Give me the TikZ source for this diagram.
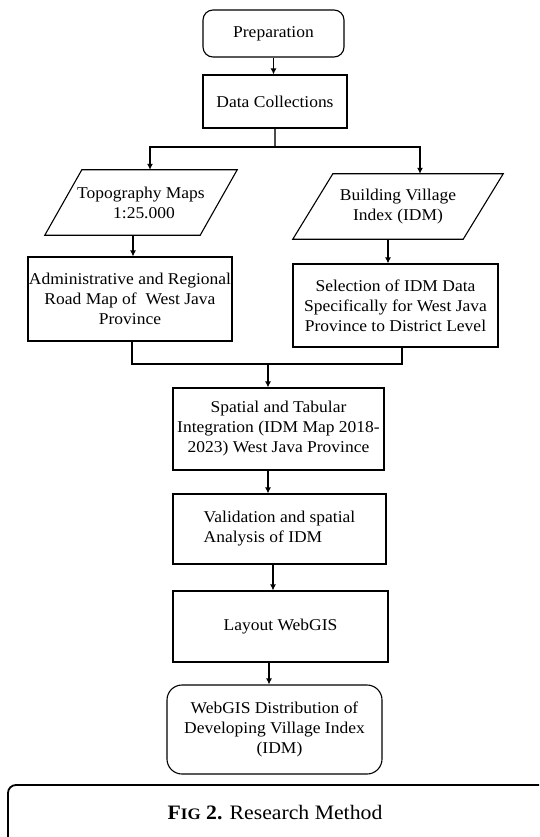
\documentclass[tikz,border=0pt]{standalone}
\usepackage{fontspec}
\setmainfont[FakeStretch=1.06]{Liberation Serif}
\usetikzlibrary{arrows.meta,calc}
\begin{document}
\begin{tikzpicture}[x=1pt,y=-1pt,
  every node/.style={font=\fontsize{16.5}{20}\selectfont, align=center, inner sep=0pt},
  box/.style={draw, line width=1.1pt},
  rbox/.style={box, rounded corners=10pt},
  conn/.style={line width=1.2pt},
  tip/.tip={Latex[length=6pt,width=6pt]},
  arr/.style={conn, -tip},
]
\useasboundingbox (0,0) rectangle (539,837);

\node[rbox, minimum width=141pt, minimum height=47pt] (prep) at (273.5,33.5) {Preparation};
\node[box, minimum width=144pt, minimum height=53pt] (data) at (275,101.5) {Data Collections};
\node[minimum width=155pt, minimum height=65pt] (topo) at (141,202.5) {Topography Maps\\ \hspace*{6pt}1:25.000};
\node[minimum width=170pt, minimum height=65pt] (bvi) at (398,206.5) {Building Village\\Index (IDM)};
\draw[box] ([xshift=18.5pt]topo.north west) -- ([xshift=18.5pt]topo.north east) -- ([xshift=-18.5pt]topo.south east) -- ([xshift=-18.5pt]topo.south west) -- cycle;
\draw[box] ([xshift=20pt]bvi.north west) -- ([xshift=20pt]bvi.north east) -- ([xshift=-20pt]bvi.south east) -- ([xshift=-20pt]bvi.south west) -- cycle;

\node[box, minimum width=204pt, minimum height=84pt] (admin) at (130,299) {Administrative and Regional\\Road Map of\ \ West Java\\Province};
\node[box, minimum width=205pt, minimum height=83pt] (sel) at (395.5,305.5) {Selection of IDM Data\\Specifically for West Java\\Province to District Level};
\node[box, minimum width=211pt, minimum height=82pt] (spat) at (278.5,429) {Spatial and Tabular\\Integration (IDM Map 2018-\\2023) West Java Province};
\node[box, minimum width=213pt, minimum height=70pt, align=left] (val) at (279.5,529) {Validation and spatial\\Analysis of IDM};
\node[box, minimum width=215pt, minimum height=71pt] (lay) at (280.5,626.5) {Layout WebGIS};
\node[rbox, rounded corners=15pt, minimum width=215pt, minimum height=89pt] (web) at (274.5,729.5) {WebGIS Distribution of\\Developing Village Index\\\hspace*{10pt}(IDM)};

% caption frame
\draw[line width=1.8pt, rounded corners=8pt] (539,785) -- (8,785) -- (8,837);
\node[font=\fontsize{20.5}{24}\selectfont] (cap) at (275,813) {\textbf{F{\fontsize{16}{16}\selectfont IG} 2.} Research Method};

% connectors
\coordinate (jL) at (150,147);
\coordinate (jR) at (420,147);
\draw[arr] (prep.south) -- (prep.south |- data.north);
\draw[conn, black!70] (data.south) -- (data.south |- jL);
\draw[conn, tip-tip] (jL |- topo.north) -- (jL) -- (jR) -- (jR |- bvi.north);
\coordinate (xa) at (133,0);
\coordinate (xb) at (388,0);
\draw[arr] (xa |- topo.south) -- (xa |- admin.north);
\draw[arr] (xb |- bvi.south) -- (xb |- sel.north);
\coordinate (jB) at (268,364);
\coordinate (xc) at (132,0);
\coordinate (xd) at (402,0);
\draw[conn] (xc |- admin.south) -- (xc |- jB) -- (xd |- jB) -- (xd |- sel.south);
\draw[arr] (jB) -- (jB |- spat.north);
\coordinate (xe) at (268,0);
\coordinate (xf) at (273,0);
\coordinate (xg) at (269,0);
\draw[arr] (xe |- spat.south) -- (xe |- val.north);
\draw[arr] (xf |- val.south) -- (xf |- lay.north);
\draw[arr] (xg |- lay.south) -- (xg |- web.north);
\end{tikzpicture}
\end{document}
